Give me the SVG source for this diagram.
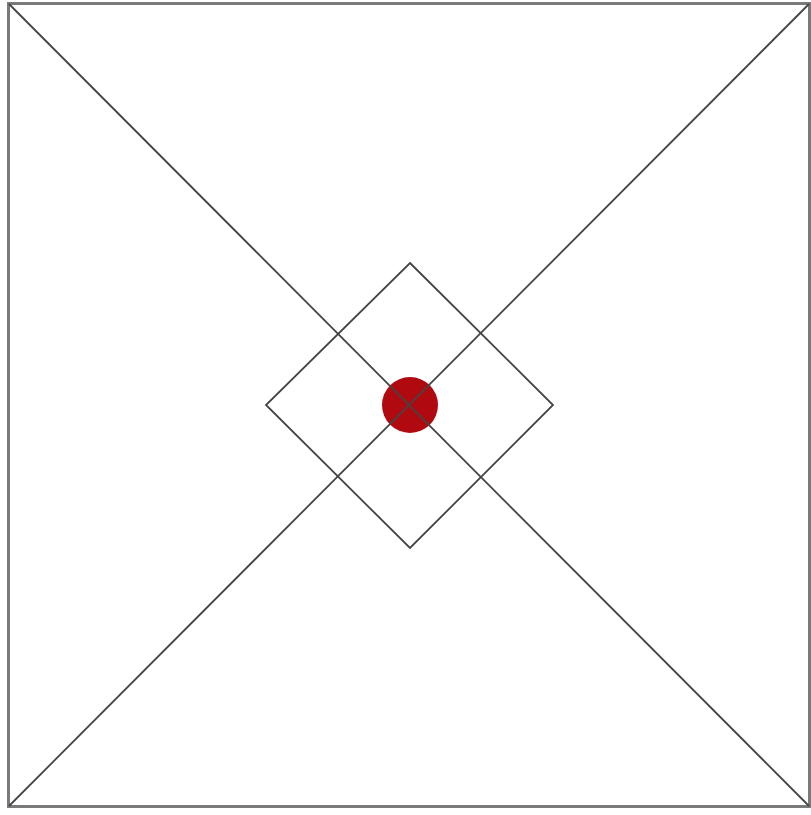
<svg xmlns="http://www.w3.org/2000/svg" width="811" height="815" viewBox="0 0 811 815">
<style>
.frame{fill:none;stroke:#7a7a7a;stroke-width:3}
.ln{fill:none;stroke:#444;stroke-width:1.8}
</style>
<rect width="811" height="815" fill="#fff"/>
<g id="frame"><rect class="frame" x="8.5" y="3.5" width="801" height="803"/></g>
<g id="dot"><circle cx="410" cy="405" r="28" fill="#b00a10"/></g>
<g id="diamond"><polygon class="ln" points="410,263 553,405 410,548 266,405"/></g>
<g id="connectors">
<line class="ln" x1="9" y1="4" x2="809" y2="806"/>
<line class="ln" x1="809" y1="4" x2="9" y2="806"/>
</g>
</svg>
